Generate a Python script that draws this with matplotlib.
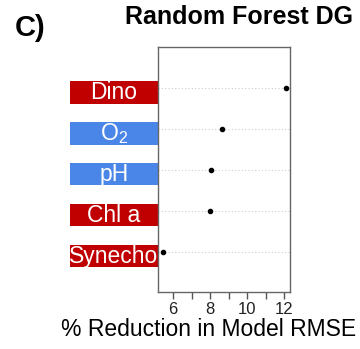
import matplotlib
matplotlib.use("Agg")
import matplotlib.pyplot as plt
import matplotlib.transforms as mtransforms
from matplotlib.patches import Rectangle

plt.rcParams['font.family'] = ['Liberation Sans', 'DejaVu Sans']
plt.rcParams['mathtext.fontset'] = 'custom'
plt.rcParams['mathtext.rm'] = 'Liberation Sans'

# variable importance, bottom to top
variables = ["Synecho", "Chl a", "pH", "O$_\\mathregular{2}$", "Dino"]
reduction = [5.45, 8.02, 8.07, 8.62, 12.09]
box_colors = ["#C00000", "#C00000", "#4A86E8", "#4A86E8", "#C00000"]
xticks = [6, 8, 10, 12]

fig = plt.figure(figsize=(3.6, 3.49), dpi=100)
ax = fig.add_axes([158/360, 57/349, 132/360, 245/349])

ypos = list(range(1, len(variables) + 1))
for y in ypos:
    ax.axhline(y, color="#CCCCCC", lw=0.8, ls=(0, (1, 2)), zorder=0)
ax.plot(reduction, ypos, "o", color="black", ms=3, zorder=3)

ax.set_xlim(5.19, 12.32)
ax.set_ylim(0.02, 6)
ax.set_xticks(xticks)
ax.set_xticks([7, 9, 11], minor=True)
ax.set_yticks([])
ax.tick_params(axis="x", which="both", length=5, width=1, color="#555555",
               labelsize=12, pad=2, labelcolor="#222222")
for s in ax.spines.values():
    s.set_color("#666666")
    s.set_linewidth(1)

# coloured variable labels to the left of the panel
trans = mtransforms.blended_transform_factory(ax.transAxes, ax.transData)
for y, lab, c in zip(ypos, variables, box_colors):
    ax.add_patch(Rectangle((-0.667, y - 0.38), 0.667, 0.54, transform=trans,
                           facecolor=c, edgecolor="none", clip_on=False))
    ax.text(-0.333, y - 0.11, lab, transform=trans, ha="center", va="center",
            color="white", fontsize=16.5, clip_on=False)

fig.text(239/360, 1 - 17/349, "Random Forest DG", ha="center", va="center",
         fontsize=18, fontweight="bold")
fig.text(15/360, 1 - 28/349, "C)", ha="left", va="center",
         fontsize=21, fontweight="bold")
fig.text(209/360, 1 - 330/349, "% Reduction in Model RMSE", ha="center",
         va="center", fontsize=16.5)

fig.savefig("out.png", dpi=100)
